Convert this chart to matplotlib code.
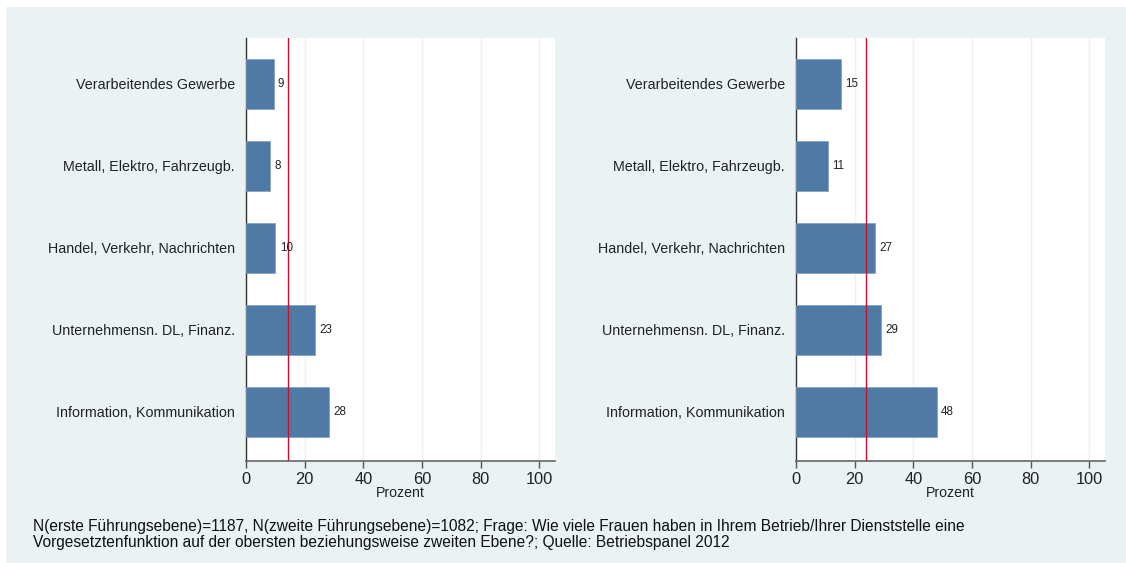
import matplotlib
matplotlib.use("Agg")
import matplotlib.pyplot as plt
from matplotlib.patches import Rectangle

plt.rcParams['font.family'] = ['Liberation Sans', 'DejaVu Sans']

categories = ["Verarbeitendes Gewerbe", "Metall, Elektro, Fahrzeugb.",
              "Handel, Verkehr, Nachrichten", "Unternehmensn. DL, Finanz.",
              "Information, Kommunikation"]
values_first = [9.4, 8.2, 10.0, 23.4, 28.3]
values_second = [15.4, 10.9, 26.9, 29.1, 47.9]
mean_first = 14.4
mean_second = 23.7
xticks = [0, 20, 40, 60, 80, 100]
xlabel = "Prozent"
footnote = ("N(erste Führungsebene)=1187, N(zweite Führungsebene)=1082; Frage: Wie viele Frauen haben in Ihrem Betrieb/Ihrer Dienststelle eine\n"
            "Vorgesetztenfunktion auf der obersten beziehungsweise zweiten Ebene?; Quelle: Betriebspanel 2012")

W, H = 1126, 563
fig = plt.figure(figsize=(W / 100, H / 100), dpi=100)
fig.patch.set_facecolor("white")
bg = "#EAF2F3"
fig.patches.append(Rectangle((6 / W, 0), 1 - 6 / W, 1 - 7 / H, transform=fig.transFigure,
                             facecolor=bg, edgecolor="none", zorder=-10))

bar_color = "#4E7AA5"
red = "#C8102E"

def panel(x0px, vals, mean):
    ax = fig.add_axes([x0px / W, 1 - 461 / H, 309 / W, (461 - 38) / H])
    ax.set_facecolor("white")
    pos = list(range(len(categories)))
    ax.barh(pos, vals, height=0.61, color=bar_color, edgecolor="#7F9DBD", linewidth=0.5, zorder=3)
    for p, v in zip(pos, vals):
        ax.text(v + 1.5, p, f"{v:.0f}", va="center", ha="left", fontsize=8.4, color="#222222", zorder=5)
    ax.axvline(mean, color=red, linewidth=1.0, zorder=4)
    ax.set_xlim(0, 105.3)
    ax.set_ylim(4.6, -0.56)
    ax.set_yticks(pos)
    ax.set_yticklabels(categories, fontsize=10.3, color="#222222")
    ax.tick_params(axis="y", length=0, pad=8)
    ax.set_xticks(xticks)
    ax.set_xticklabels([str(t) for t in xticks], fontsize=11.8, color="#222222")
    ax.tick_params(axis="x", length=5, width=1, color="#555555", pad=3)
    ax.set_xlabel(xlabel, fontsize=10.2, color="#222222", labelpad=-1)
    ax.grid(axis="x", color=bg, linewidth=1.0, zorder=1)
    ax.set_axisbelow(True)
    for s in ["top", "right"]:
        ax.spines[s].set_visible(False)
    ax.spines["left"].set_color("#333333")
    ax.spines["left"].set_linewidth(1.0)
    ax.spines["bottom"].set_color("#666666")
    ax.spines["bottom"].set_linewidth(1.2)
    return ax

panel(246, values_first, mean_first)
panel(796, values_second, mean_second)

fig.text(33 / W, 1 - 519 / H, footnote, fontsize=11.2, color="#111111", va="top", ha="left",
         linespacing=1.1)

fig.savefig("out.png", dpi=100, facecolor=fig.get_facecolor())
